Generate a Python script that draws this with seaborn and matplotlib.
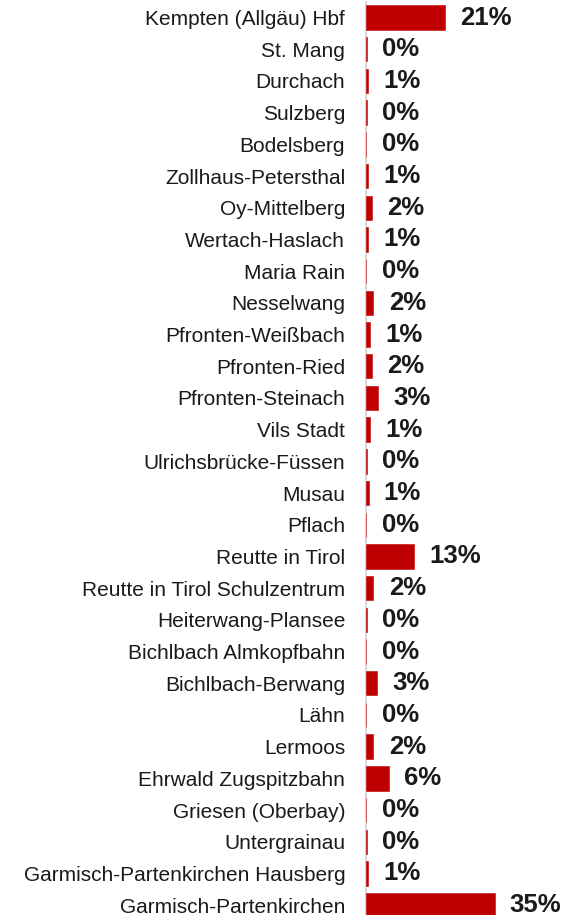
import numpy as np
import pandas as pd
import seaborn as sns
import matplotlib.pyplot as plt
from matplotlib.ticker import FixedLocator

# %% data (share of passengers, %)

stations = ["Kempten (Allgäu) Hbf", "St. Mang", "Durchach", "Sulzberg", "Bodelsberg",
            "Zollhaus-Petersthal", "Oy-Mittelberg", "Wertach-Haslach", "Maria Rain",
            "Nesselwang", "Pfronten-Weißbach", "Pfronten-Ried", "Pfronten-Steinach",
            "Vils Stadt", "Ulrichsbrücke-Füssen", "Musau", "Pflach", "Reutte in Tirol",
            "Reutte in Tirol Schulzentrum", "Heiterwang-Plansee", "Bichlbach Almkopfbahn",
            "Bichlbach-Berwang", "Lähn", "Lermoos", "Ehrwald Zugspitzbahn",
            "Griesen (Oberbay)", "Untergrainau", "Garmisch-Partenkirchen Hausberg",
            "Garmisch-Partenkirchen"]

share = [21.4, 0.2, 0.6, 0.3, 0.1,
         0.6, 1.55, 0.6, 0.1,
         2.0, 1.2, 1.7, 3.2,
         1.1, 0.3, 0.7, 0.1, 13.0,
         2.0, 0.3, 0.1,
         2.9, 0.1, 2.0, 6.2,
         0.1, 0.2, 0.6,
         34.9]

df = pd.DataFrame({"station": stations, "share": share})

# %% plot

sns.set_style("white")
plt.rcParams['font.family'] = ['Liberation Sans', 'DejaVu Sans']

fig = plt.figure(figsize=(5.76, 9.15), dpi=100)
ax = fig.add_axes([366 / 576, -0.00656, 210 / 576, 1.0047])

sns.barplot(data=df, x="share", y="station", orient="h", color="#c00000",
            width=0.77, saturation=1, edgecolor="#c00000", linewidth=0.4, ax=ax)

for bar, v in zip(ax.patches, share):
    ax.annotate(f"{v:.0f}%", (bar.get_width(), bar.get_y() + bar.get_height() / 2),
                xytext=(11, 0), textcoords="offset points", ha="left", va="center",
                fontsize=18.5, fontweight="bold", color="#1a1a1a")

ax.set_xlim(0, 57)
ax.set_ylim(len(stations) - 0.5, -0.5)
ax.set_xlabel("")
ax.set_ylabel("")
ax.set_xticks([])

ax.yaxis.set_minor_locator(FixedLocator(np.arange(len(stations) + 1) - 0.5))
ax.tick_params(axis="y", which="major", length=0, pad=15, labelsize=15,
               labelcolor="#1a1a1a")
ax.tick_params(axis="y", which="minor", length=4.5, width=1.5, color="#d9d9d9",
               direction="out")

sns.despine(ax=ax, top=True, right=True, bottom=True)
ax.spines["left"].set_color("#d9d9d9")
ax.spines["left"].set_linewidth(1.5)
ax.spines["left"].set_zorder(0.5)

fig.savefig("out.png", dpi=100)
